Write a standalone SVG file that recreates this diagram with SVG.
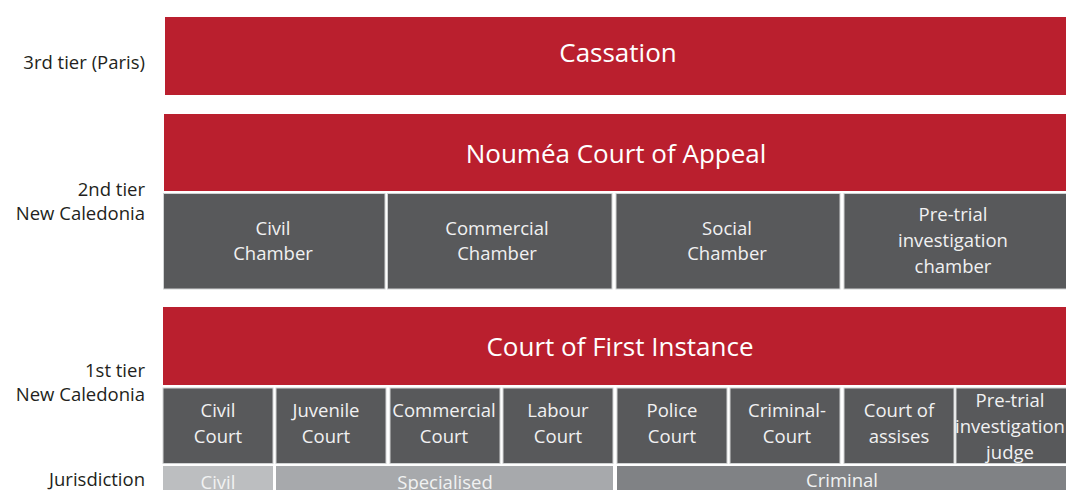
<svg xmlns="http://www.w3.org/2000/svg" width="1066" height="490" viewBox="0 0 1066 490">
<style>
.red{fill:#ba1f2e}
.box{fill:#58595b;stroke:#d1d3d4;stroke-width:1}
.jc{fill:#bcbec0}
.js{fill:#a7a9ac}
.jr{fill:#808285}
text{font-family:"Open Sans","Liberation Sans",sans-serif}
.big{font-size:26px;fill:#ffffff;text-anchor:middle}
.lbl{font-size:18.5px;fill:#231f20;text-anchor:end}
.bt{font-size:18.5px;fill:#f1f1f2;text-anchor:middle}
.jt{font-size:18.5px;fill:#f1f2f2;text-anchor:middle}
</style>
<rect width="1066" height="490" fill="#ffffff"/>
<g id="labels">
<text class="lbl" x="145" y="69">3rd tier (Paris)</text>
<text class="lbl" x="145" y="196">2nd tier</text>
<text class="lbl" x="145" y="220">New Caledonia</text>
<text class="lbl" x="145" y="377">1st tier</text>
<text class="lbl" x="145" y="401">New Caledonia</text>
<text class="lbl" x="145" y="486">Jurisdiction</text>
</g>
<g id="cassation"><rect class="red" x="165" y="17" width="901" height="78"/><text class="big" x="618" y="62">Cassation</text></g>
<g id="appeal"><rect class="red" x="164" y="114" width="902" height="77"/><text class="big" x="616" y="163">Nouméa Court of Appeal</text></g>
<g id="civil-chamber"><rect class="box" x="163.5" y="193.5" width="221.5" height="95.5"/><text class="bt" x="273" y="235">Civil</text><text class="bt" x="273" y="260">Chamber</text></g>
<g id="commercial-chamber"><rect class="box" x="387.5" y="193.5" width="224.5" height="95.5"/><text class="bt" x="497" y="235">Commercial</text><text class="bt" x="497" y="260">Chamber</text></g>
<g id="social-chamber"><rect class="box" x="616" y="193.5" width="224" height="95.5"/><text class="bt" x="727" y="235">Social</text><text class="bt" x="727" y="260">Chamber</text></g>
<g id="pretrial-chamber"><rect class="box" x="844" y="193.5" width="223" height="95.5"/><text class="bt" x="953" y="221">Pre-trial</text><text class="bt" x="953" y="247">investigation</text><text class="bt" x="953" y="273">chamber</text></g>
<g id="first-instance"><rect class="red" x="163" y="307" width="903" height="78"/><text class="big" x="620" y="356">Court of First Instance</text></g>
<g id="civil-court"><rect class="box" x="163" y="388" width="110" height="75.5"/><text class="bt" x="218" y="417">Civil</text><text class="bt" x="218" y="443">Court</text></g>
<g id="juvenile-court"><rect class="box" x="276" y="388" width="110" height="75.5"/><text class="bt" x="326" y="417">Juvenile</text><text class="bt" x="326" y="443">Court</text></g>
<g id="commercial-court"><rect class="box" x="390" y="388" width="110" height="75.5"/><text class="bt" x="444" y="417">Commercial</text><text class="bt" x="444" y="443">Court</text></g>
<g id="labour-court"><rect class="box" x="503" y="388" width="110" height="75.5"/><text class="bt" x="558" y="417">Labour</text><text class="bt" x="558" y="443">Court</text></g>
<g id="police-court"><rect class="box" x="617" y="388" width="110" height="75.5"/><text class="bt" x="672" y="417">Police</text><text class="bt" x="672" y="443">Court</text></g>
<g id="criminal-court"><rect class="box" x="730" y="388" width="110" height="75.5"/><text class="bt" x="787" y="417">Criminal-</text><text class="bt" x="787" y="443">Court</text></g>
<g id="assises-court"><rect class="box" x="844" y="388" width="110" height="75.5"/><text class="bt" x="899" y="417">Court of</text><text class="bt" x="899" y="443">assises</text></g>
<g id="pretrial-judge"><rect class="box" x="956" y="388" width="111" height="75.5"/><text class="bt" x="1010" y="407">Pre-trial</text><text class="bt" x="1010" y="433">investigation</text><text class="bt" x="1010" y="459">judge</text></g>
<g id="jur-civil"><rect class="jc" x="163" y="466" width="110" height="30"/><text class="jt" x="218" y="489">Civil</text></g>
<g id="jur-specialised"><rect class="js" x="276" y="466" width="337" height="30"/><text class="jt" x="445" y="489">Specialised</text></g>
<g id="jur-criminal"><rect class="jr" x="617" y="466" width="450" height="30"/><text class="jt" x="842" y="487">Criminal</text></g>
<g id="connectors"></g>
</svg>
